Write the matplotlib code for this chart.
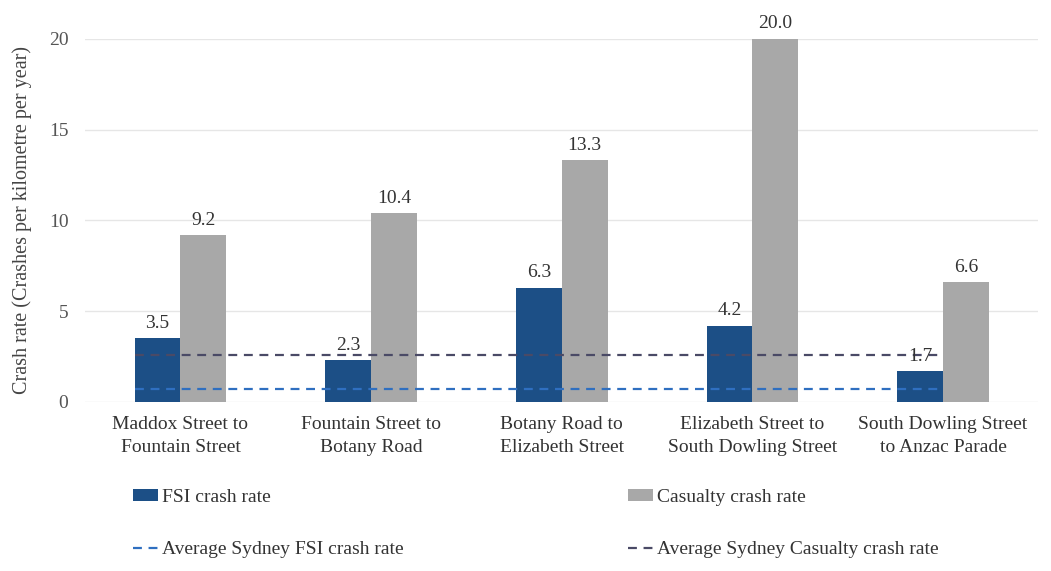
import matplotlib.pyplot as plt
import numpy as np

# Data
segments = ['Maddox Street to\nFountain Street', 'Fountain Street to\nBotany Road',
            'Botany Road to\nElizabeth Street', 'Elizabeth Street to\nSouth Dowling Street',
            'South Dowling Street\nto Anzac Parade']
fsi_rate = [3.5, 2.3, 6.3, 4.2, 1.7]
casualty_rate = [9.2, 10.4, 13.3, 20.0, 6.6]
avg_fsi = 0.7
avg_casualty = 2.6

plt.rcParams['font.family'] = ['Liberation Serif', 'DejaVu Serif']

fig = plt.figure(figsize=(10.51, 5.71), dpi=100)
ax = fig.add_axes([0.081, 0.296, 0.907, 0.636])

index = np.arange(len(segments))
bar_width = 0.24
b1 = ax.bar(index - bar_width / 2, fsi_rate, bar_width, color='#1c4f86', label='FSI crash rate', zorder=2)
b2 = ax.bar(index + bar_width / 2, casualty_rate, bar_width, color='#a8a8a8', label='Casualty crash rate', zorder=2)

l1 = ax.hlines(avg_fsi, -bar_width, index[-1], colors='#2f6fc0', linestyles=(0, (4, 3)), lw=1.6,
               label='Average Sydney FSI crash rate', zorder=3)
l2 = ax.hlines(avg_casualty, -bar_width, index[-1], colors='#4a4a66', linestyles=(0, (4, 3)), lw=1.6,
               label='Average Sydney Casualty crash rate', zorder=3)

for bars in (b1, b2):
    for rect in bars:
        h = rect.get_height()
        ax.text(rect.get_x() + rect.get_width() / 2, h + 0.35, f'{h:.1f}',
                ha='center', va='bottom', fontsize=14, color='#333333')

ax.set_xlim(-0.5, len(segments) - 0.5)
ax.set_ylim(0, 20)
ax.set_yticks([0, 5, 10, 15, 20])
ax.set_xticks(index)
ax.set_xticklabels(segments, fontsize=14, color='#333333', linespacing=1.5)
ax.tick_params(axis='y', labelsize=14, labelcolor='#555555', length=0, pad=12)
ax.tick_params(axis='x', length=0, pad=10)
ax.set_ylabel('Crash rate (Crashes per kilometre per year)', fontsize=14.5, color='#444444', labelpad=12)
ax.grid(axis='y', color='#e6e6e6', lw=1, zorder=0)
for s in ax.spines.values():
    s.set_visible(False)

# column-first fill: col 1 = FSI items, col 2 = casualty items
handles = [b1, l1, b2, l2]
labels = [h.get_label() for h in handles]
fig.legend(handles, labels,
           loc='lower left', bbox_to_anchor=(0.11, -0.008, 0.8, 0.2), mode='expand',
           ncol=2, frameon=False, fontsize=14, handlelength=1.3, handleheight=0.6,
           handletextpad=0.2, labelspacing=1.8, labelcolor='#333333')

plt.savefig('out.png', dpi=100)
